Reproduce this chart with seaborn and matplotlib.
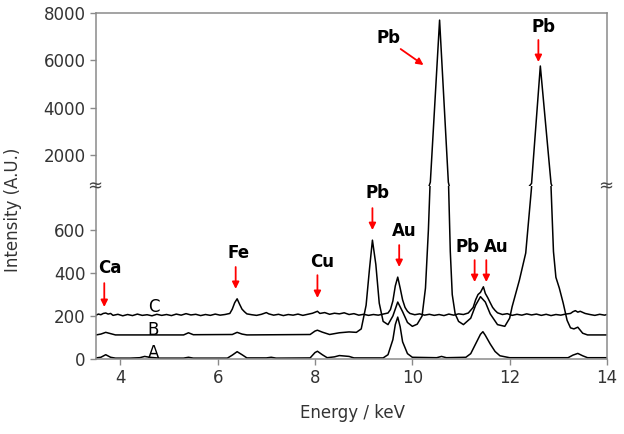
import numpy as np
import pandas as pd
import seaborn as sns
import matplotlib.pyplot as plt

# spectrum A (bottom trace)
energy_a = [3.50, 3.60, 3.70, 3.80, 3.90, 4.20, 4.40, 4.50, 4.60, 4.80, 5.30, 5.40, 5.50,
            6.20, 6.30, 6.40, 6.50, 6.60, 7.00, 7.10, 7.20, 7.90, 8.00, 8.05, 8.15, 8.25,
            8.40, 8.50, 8.60, 8.70, 8.80, 9.40, 9.50, 9.60, 9.65, 9.70, 9.75, 9.80, 9.90,
            10.00, 10.50, 10.60, 10.70, 11.10, 11.20, 11.30, 11.40, 11.45, 11.50, 11.60,
            11.70, 11.80, 12.00, 13.20, 13.30, 13.40, 13.50, 13.60, 14.00]
intensity_a = [5, 8, 20, 8, 4, 4, 6, 12, 8, 4, 4, 8, 4,
               4, 18, 34, 20, 5, 5, 8, 4, 5, 30, 36, 20, 6,
               10, 16, 14, 12, 5, 5, 20, 90, 160, 195, 150, 80, 25,
               8, 6, 12, 6, 8, 25, 70, 115, 127, 110, 70,
               35, 15, 6, 6, 18, 26, 15, 6, 6]

# spectrum B (middle trace, carries the big Pb lines)
energy_b = [3.50, 3.60, 3.70, 3.80, 3.90, 5.30, 5.40, 5.50, 6.30, 6.40, 6.50, 6.60,
            7.90, 8.00, 8.05, 8.15, 8.30, 8.50, 8.70, 8.85, 8.95, 9.05, 9.12, 9.18,
            9.25, 9.32, 9.40, 9.50, 9.60, 9.70, 9.80, 9.90, 10.00, 10.10, 10.20, 10.27,
            10.33, 10.37, 10.56, 10.74, 10.78, 10.82, 10.88, 10.95, 11.05, 11.20, 11.30,
            11.40, 11.50, 11.60, 11.75, 11.90, 12.00, 12.05, 12.20, 12.33, 12.45, 12.63,
            12.85, 12.90, 12.95, 13.02, 13.10, 13.18, 13.25, 13.32, 13.40, 13.50, 13.60,
            14.00]
intensity_b = [112, 116, 124, 118, 112, 112, 122, 113, 114, 124, 116, 112,
               114, 130, 134, 125, 114, 122, 126, 124, 140, 250, 420, 553,
               440, 260, 175, 160, 200, 265, 220, 170, 152, 162, 200, 330,
               600, 850, 7700, 850, 500, 300, 210, 175, 160, 190, 250,
               290, 265, 210, 160, 152, 190, 243, 367, 493, 800, 5760,
               800, 500, 380, 330, 260, 180, 145, 140, 148, 120, 112,
               112]

# spectrum C (top trace, noisy)
energy_c = [3.50, 3.55, 3.60, 3.65, 3.70, 3.75, 3.80, 3.85, 3.95, 4.05, 4.15, 4.25, 4.35,
            4.45, 4.55, 4.65, 4.75, 4.85, 4.95, 5.05, 5.15, 5.25, 5.35, 5.45, 5.55, 5.65,
            5.75, 5.85, 5.95, 6.05, 6.15, 6.25, 6.30, 6.35, 6.40, 6.45, 6.50, 6.55, 6.60,
            6.70, 6.80, 6.90, 7.00, 7.05, 7.15, 7.25, 7.35, 7.45, 7.55, 7.65, 7.75, 7.85,
            7.95, 8.05, 8.10, 8.20, 8.30, 8.40, 8.50, 8.60, 8.70, 8.80, 8.90, 9.00, 9.10,
            9.20, 9.30, 9.40, 9.50, 9.55, 9.60, 9.65, 9.70, 9.75, 9.80, 9.85, 9.90, 9.95,
            10.05, 10.15, 10.25, 10.35, 10.45, 10.55, 10.65, 10.75, 10.85, 10.95, 11.05,
            11.15, 11.25, 11.30, 11.35, 11.40, 11.46, 11.50, 11.55, 11.60, 11.65, 11.70,
            11.75, 11.85, 11.95, 12.05, 12.15, 12.25, 12.35, 12.45, 12.55, 12.65, 12.75,
            12.85, 12.95, 13.05, 13.15, 13.25, 13.30, 13.35, 13.40, 13.45, 13.55, 13.65,
            13.75, 13.85, 13.95, 14.00]
intensity_c = [204, 209, 206, 212, 214, 209, 212, 203, 208, 201, 207, 202, 209,
               203, 206, 201, 208, 203, 207, 202, 209, 204, 211, 205, 208, 202,
               207, 203, 209, 204, 207, 212, 232, 262, 280, 255, 232, 220, 210,
               206, 203, 208, 216, 210, 204, 208, 202, 207, 204, 209, 203, 208,
               213, 222, 212, 216, 208, 213, 210, 215, 207, 211, 204, 208, 203,
               207, 204, 209, 214, 230, 270, 340, 381, 330, 275, 240, 222, 212,
               206, 210, 204, 208, 203, 207, 202, 209, 204, 210, 207,
               214, 240, 275, 300, 310, 336, 305, 285, 262, 240, 226,
               215, 207, 211, 203, 208, 204, 210, 205, 209, 203, 208,
               202, 207, 204, 209, 212, 220, 225, 218, 222, 212, 207,
               203, 208, 204, 207]

frames = []
for name, e, i in [('A', energy_a, intensity_a), ('B', energy_b, intensity_b),
                   ('C', energy_c, intensity_c)]:
    frames.append(pd.DataFrame({'energy': e, 'intensity': i, 'sample': name}))
spectra = pd.concat(frames, ignore_index=True)

sns.set_style('ticks')
plt.rcParams['font.family'] = ['DejaVu Sans']

W, H = 624, 434
left, right, top, mid, bottom = 96, 607, 13, 186, 359
fig = plt.figure(figsize=(W / 100, H / 100), dpi=100)
ax_top = fig.add_axes([left / W, 1 - mid / H, (right - left) / W, (mid - top) / H])
ax_bot = fig.add_axes([left / W, 1 - bottom / H, (right - left) / W, (bottom - mid) / H])

spine_col = '#8a8a8a'
text_col = '#333333'
for ax in (ax_top, ax_bot):
    sns.lineplot(data=spectra, x='energy', y='intensity', units='sample', estimator=None,
                 sort=False, color='black', lw=1.1, ax=ax)
    ax.set_xlim(3.5, 14)
    ax.set_xlabel('')
    ax.set_ylabel('')
    for s in ax.spines.values():
        s.set_color(spine_col)
        s.set_linewidth(1.1)
    ax.tick_params(colors=spine_col, labelcolor=text_col, labelsize=12, length=4, width=1)

ax_top.set_ylim(690, 8000)
ax_top.set_yticks([2000, 4000, 6000, 8000])
ax_top.spines['bottom'].set_visible(False)
ax_top.tick_params(axis='x', bottom=False, labelbottom=False)

ax_bot.set_ylim(0, 805)
ax_bot.set_yticks([0, 200, 400, 600])
ax_bot.set_xticks([4, 6, 8, 10, 12, 14])
ax_bot.spines['top'].set_visible(False)

# axis break marks
for xp in (left, right):
    fig.text((xp - 1) / W, 1 - mid / H, '≈', ha='center', va='center', fontsize=13,
             color='#444444')

fig.text(13 / W, 1 - 210 / H, 'Intensity (A.U.)', rotation=90, ha='center', va='center',
         fontsize=12, color=text_col)
fig.text(352 / W, 1 - 413 / H, 'Energy / keV', ha='center', va='center',
         fontsize=12, color=text_col)

arrow = dict(arrowstyle='-|>', color='red', lw=1.3, mutation_scale=10, shrinkA=0, shrinkB=0)

# element labels in the lower panel: (text, text x, text y, arrow x, arrow start, arrow end)
low_labels = [('Ca', 3.78, 423, 3.67, 353, 242),
              ('Fe', 6.43, 493, 6.37, 428, 326),
              ('Cu', 8.15, 451, 8.05, 390, 284),
              ('Pb', 9.28, 772, 9.18, 702, 600),
              ('Au', 9.84, 595, 9.73, 530, 428),
              ('Pb', 11.13, 521, 11.28, 460, 358),
              ('Au', 11.73, 521, 11.52, 460, 358)]
for lab, tx, ty, axp, y0, y1 in low_labels:
    ax_bot.text(tx, ty, lab, ha='center', va='center', fontsize=12, fontweight='bold',
                color='black')
    ax_bot.annotate('', xy=(axp, y1), xytext=(axp, y0), arrowprops=arrow)

ax_top.text(9.51, 6943, 'Pb', ha='center', va='center', fontsize=12, fontweight='bold',
            color='black')
ax_top.annotate('', xy=(10.23, 5802), xytext=(9.76, 6478), arrowprops=arrow)
ax_top.text(12.70, 7408, 'Pb', ha='center', va='center', fontsize=12, fontweight='bold',
            color='black')
ax_top.annotate('', xy=(12.59, 5929), xytext=(12.59, 6859), arrowprops=arrow)

for lab, ty in [('C', 242), ('B', 135), ('A', 28)]:
    ax_bot.text(4.68, ty, lab, ha='center', va='center', fontsize=12, color='black')

fig.savefig('out.png', dpi=100)
